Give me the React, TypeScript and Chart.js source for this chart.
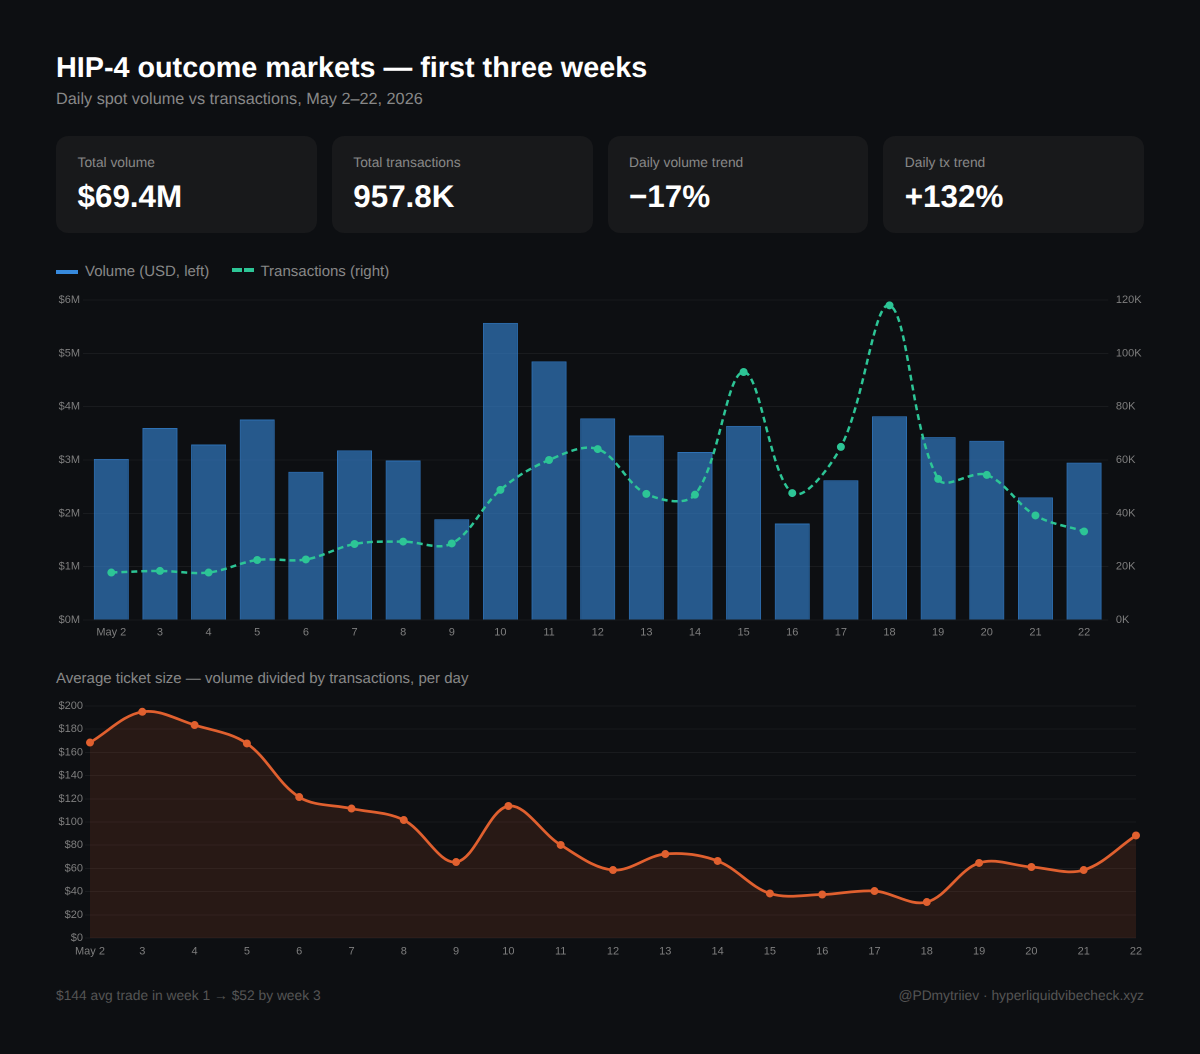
import React, { useEffect, useRef } from 'react';
import Chart from 'chart.js/auto';

const days = ['May 2', '3', '4', '5', '6', '7', '8', '9', '10', '11', '12', '13', '14', '15', '16', '17', '18', '19', '20', '21', '22'];
const volumeM = [3.02, 3.6, 3.29, 3.76, 2.78, 3.18, 2.99, 1.89, 5.57, 4.85, 3.78, 3.46, 3.15, 3.64, 1.81, 2.62, 3.82, 3.43, 3.36, 2.3, 2.95];
const transactions = [17800, 18400, 17800, 22500, 22700, 28500, 29400, 28700, 48800, 60000, 64100, 47300, 47000, 93000, 47600, 64900, 118000, 52900, 54400, 39200, 33200];
const avgTicket = [168.5, 195, 183.6, 167.7, 121.5, 111.6, 101.7, 65.5, 113.8, 80.2, 58.6, 72.4, 66.4, 38.4, 37.5, 40.5, 31, 64.7, 61.2, 58.6, 88.4];

const cards = [
  { label: 'Total volume', value: '$69.4M' },
  { label: 'Total transactions', value: '957.8K' },
  { label: 'Daily volume trend', value: '−17%' },
  { label: 'Daily tx trend', value: '+132%' },
];

const FONT = '"Liberation Sans", Arial, sans-serif';
const BLUE = '#378ADD';
const GREEN = '#2DC596';
const ORANGE = '#E0602F';
const GRID = 'rgba(255,255,255,0.05)';
const TICK = '#7F7F7F';
const tickFont = { family: FONT, size: 11 };

const text = (left: number, top: number, size: number, color: string, weight = 400): React.CSSProperties => ({
  position: 'absolute',
  left,
  top,
  fontSize: size,
  lineHeight: `${Math.round(size * 1.2)}px`,
  color,
  fontWeight: weight,
  whiteSpace: 'nowrap',
});

// drop the margins chart.js reserves for half a tick label, the layout padding sets the plot box instead
const noMargins = (axis: any) => {
  axis.paddingTop = 0;
  axis.paddingBottom = 0;
  axis.paddingLeft = 0;
  axis.paddingRight = 0;
};

export default function App() {
  const volumeRef = useRef<HTMLCanvasElement>(null);
  const ticketRef = useRef<HTMLCanvasElement>(null);

  useEffect(() => {
    document.body.style.margin = '0';
    document.body.style.background = '#0D0F12';

    const volumeChart = new Chart(volumeRef.current!, {
      type: 'bar',
      data: {
        labels: days,
        datasets: [
          {
            type: 'line',
            label: 'Transactions',
            data: transactions,
            yAxisID: 'y2',
            borderColor: GREEN,
            backgroundColor: GREEN,
            borderWidth: 2.5,
            borderDash: [6, 4],
            pointRadius: 4,
            pointBackgroundColor: GREEN,
            pointBorderWidth: 0,
            tension: 0.35,
            order: 1,
          },
          {
            type: 'bar',
            label: 'Volume',
            data: volumeM,
            yAxisID: 'y',
            backgroundColor: 'rgba(55,138,221,0.6)',
            borderColor: 'rgba(55,138,221,0.8)',
            borderWidth: 1,
            order: 2,
          },
        ],
      },
      options: {
        animation: false,
        responsive: false,
        devicePixelRatio: 2,
        layout: { padding: { top: 10, bottom: 0, left: 0, right: 0 } },
        plugins: { legend: { display: false }, tooltip: { enabled: false } },
        scales: {
          x: {
            grid: { display: false, drawTicks: false },
            border: { display: false },
            ticks: { color: TICK, font: tickFont, padding: 6, maxRotation: 0, autoSkip: false },
            afterFit: (axis) => { noMargins(axis); axis.height = 25; },
          },
          y: {
            min: 0,
            max: 6,
            grid: { color: GRID, tickLength: 4 },
            border: { display: false },
            ticks: { color: TICK, font: tickFont, padding: 3, stepSize: 1, callback: (v) => `$${v}M` },
            afterFit: (axis) => { noMargins(axis); axis.width = 31; },
          },
          y2: {
            position: 'right',
            min: 0,
            max: 120000,
            grid: { drawOnChartArea: false, drawTicks: false },
            border: { display: false },
            ticks: { color: TICK, font: tickFont, padding: 7.5, stepSize: 20000, callback: (v) => `${Number(v) / 1000}K` },
            afterFit: (axis) => { noMargins(axis); axis.width = 35.6; },
          },
        },
      },
    });

    const ticketChart = new Chart(ticketRef.current!, {
      type: 'line',
      data: {
        labels: days,
        datasets: [
          {
            label: 'Average ticket',
            data: avgTicket,
            borderColor: ORANGE,
            backgroundColor: 'rgba(224,96,47,0.13)',
            borderWidth: 2.75,
            pointRadius: 4,
            pointBackgroundColor: ORANGE,
            pointBorderWidth: 0,
            fill: true,
            tension: 0.35,
          },
        ],
      },
      options: {
        animation: false,
        responsive: false,
        devicePixelRatio: 2,
        layout: { padding: { top: 6, right: 8, bottom: 0, left: 0 } },
        plugins: { legend: { display: false }, tooltip: { enabled: false } },
        scales: {
          x: {
            grid: { display: false, drawTicks: false },
            border: { display: false },
            ticks: { color: TICK, font: tickFont, padding: 7, maxRotation: 0, autoSkip: false },
            afterFit: (axis) => { noMargins(axis); axis.height = 22; },
          },
          y: {
            min: 0,
            max: 200,
            grid: { color: GRID, tickLength: 5 },
            border: { display: false },
            ticks: { color: TICK, font: tickFont, padding: 2, stepSize: 20, callback: (v) => `$${v}` },
            afterFit: (axis) => { noMargins(axis); axis.width = 34; },
          },
        },
      },
    });

    return () => {
      volumeChart.destroy();
      ticketChart.destroy();
    };
  }, []);

  return (
    <div style={{ position: 'absolute', left: 0, top: 0, width: 1200, height: 1054, background: '#0D0F12', fontFamily: FONT, textRendering: 'geometricPrecision', overflow: 'hidden' }}>
      <div style={text(56, 51, 28.75, '#FFFFFF', 700)}>HIP-4 outcome markets — first three weeks</div>
      <div style={text(56, 88.5, 16.25, '#888888')}>Daily spot volume vs transactions, May 2–22, 2026</div>

      {cards.map((card, i) => (
        <div key={card.label} style={{ position: 'absolute', left: 56 + i * 275.75, top: 136, width: 260.75, height: 97, borderRadius: 12, background: '#18191B' }}>
          <div style={text(21.5, 18, 13.8, '#888888')}>{card.label}</div>
          <div style={text(21.5, 42, 31.4, '#FFFFFF', 700)}>{card.value}</div>
        </div>
      ))}

      <div style={{ position: 'absolute', left: 56, top: 270, width: 22, height: 4, background: BLUE }} />
      <div style={text(85, 263, 15, '#888888')}>Volume (USD, left)</div>
      <div style={{ position: 'absolute', left: 232, top: 268, width: 10, height: 4, background: GREEN }} />
      <div style={{ position: 'absolute', left: 244, top: 268, width: 10, height: 4, background: GREEN }} />
      <div style={text(260.5, 263, 15, '#888888')}>Transactions (right)</div>

      <canvas ref={volumeRef} width={1088} height={355} style={{ position: 'absolute', left: 56, top: 290 }} />

      <div style={text(56, 670, 15, '#888888')}>Average ticket size — volume divided by transactions, per day</div>

      <canvas ref={ticketRef} width={1088} height={260} style={{ position: 'absolute', left: 56, top: 700 }} />

      <div style={text(56, 987, 13.8, '#555555')}>$144 avg trade in week 1 → $52 by week 3</div>
      <div style={{ ...text(0, 987, 13.8, '#555555'), left: 'auto', right: 56 }}>@PDmytriiev · hyperliquidvibecheck.xyz</div>
    </div>
  );
}
